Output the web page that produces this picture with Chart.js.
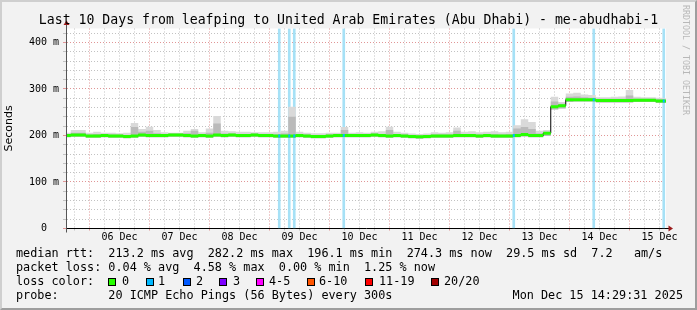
<!DOCTYPE html>
<html>
<head>
<meta charset="utf-8">
<script src="https://cdn.jsdelivr.net/npm/chart.js@4.4.1/dist/chart.umd.min.js"></script>
<style>
html, body { margin: 0; padding: 0; background: #f2f2f2; }
#wrap { position: relative; width: 697px; height: 310px; overflow: hidden; font-family: 'DejaVu Sans Mono', monospace; color: #000; }
#chart { position: absolute; left: 0; top: 0; }
#frame { position: absolute; left: 0; top: 0; width: 697px; height: 310px; box-sizing: border-box; border: 2px solid; border-color: #cfcfcf #9e9e9e #9e9e9e #cfcfcf; pointer-events: none; }
#title { position: absolute; left: 0; top: 12px; width: 697px; text-align: center; font-size: 13.2px; line-height: 15px; white-space: pre; }
.leg { position: absolute; font-size: 11.8px; line-height: 14px; white-space: pre; }
.box { position: absolute; top: 278px; width: 8px; height: 8px; box-sizing: border-box; border: 1px solid #000; }
#mark { position: absolute; left: 681px; top: 5px; writing-mode: vertical-rl; font-size: 8.3px; line-height: 10px; color: #b8b8b8; white-space: pre; }
</style>
</head>
<body>
<div id="wrap">
  <canvas id="chart" width="697" height="310"></canvas>
  <div id="title">Last 10 Days from leafping to United Arab Emirates (Abu Dhabi) - me-abudhabi-1</div>
  <div id="mark">RRDTOOL / TOBI OETIKER</div>
  <div class="leg" style="left:16px;top:246.4px">median rtt:  213.2 ms avg  282.2 ms max  196.1 ms min  274.3 ms now  29.5 ms sd  7.2   am/s</div>
  <div class="leg" style="left:16px;top:260.4px">packet loss: 0.04 % avg  4.58 % max  0.00 % min  1.25 % now</div>
  <div class="leg" style="left:16px;top:274.4px">loss color:</div>
  <div id="losskey"></div>
  <div class="leg" style="left:16px;top:288.4px">probe:       20 ICMP Echo Pings (56 Bytes) every 300s</div>
  <div class="leg" style="right:14px;top:288.4px">Mon Dec 15 14:29:31 2025</div>
  <div id="frame"></div>
</div>
<script>
// time axis is in hours after 05 Dec 00:00
const startHour = 15;
const stepHours = 3;
const xMin = 14.6;
const xMax = 254.6;
const yMax = 430;

const dayLabels = ['06 Dec', '07 Dec', '08 Dec', '09 Dec', '10 Dec', '11 Dec', '12 Dec', '13 Dec', '14 Dec', '15 Dec'];

// median rtt in ms, one value every 3 hours
const median = [
  200, 201, 201, 199, 199, 200, 199, 199, 198, 199,
  201, 200, 200, 200, 201, 201, 200, 199, 200, 199,
  201, 200, 201, 200, 200, 201, 200, 200, 199, 199,
  199, 200, 199, 198, 198, 199, 200, 200, 200, 200,
  200, 201, 200, 199, 200, 199, 198, 197, 198, 199,
  199, 199, 200, 200, 200, 199, 200, 199, 199, 199,
  200, 202, 200, 200, 205, 262, 264, 277, 277, 277,
  277, 275, 275, 275, 275, 275, 276, 276, 276, 274,
  274
];

// smoke: lowest ping, upper quartile-ish, highest ping
const smokeLo = [
  196, 197, 197, 195, 195, 196, 195, 195, 194, 195,
  197, 196, 196, 196, 197, 197, 196, 195, 196, 195,
  197, 196, 197, 196, 196, 197, 196, 196, 195, 195,
  195, 196, 195, 194, 194, 195, 196, 196, 196, 196,
  196, 197, 196, 195, 196, 195, 194, 193, 194, 195,
  195, 195, 196, 196, 196, 195, 196, 195, 195, 195,
  196, 198, 196, 196, 199, 256, 258, 272, 273, 273,
  273, 271, 271, 271, 271, 271, 272, 272, 272, 270,
  270
];
const smokeMid = [
  202, 206, 206, 202, 203, 203, 202, 202, 201, 218,
  208, 210, 205, 203, 204, 204, 205, 210, 203, 206,
  226, 204, 204, 203, 203, 204, 203, 203, 202, 204,
  240, 203, 202, 201, 201, 202, 203, 212, 203, 203,
  203, 204, 203, 212, 203, 202, 201, 200, 201, 202,
  202, 202, 210, 203, 203, 202, 203, 203, 202, 203,
  215, 218, 214, 204, 208, 273, 268, 283, 284, 282,
  281, 279, 279, 279, 279, 286, 279, 279, 279, 278,
  277
];
const smokeHi = [
  206, 212, 212, 206, 208, 206, 206, 205, 206, 227,
  214, 219, 212, 207, 206, 206, 210, 214, 207, 215,
  242, 210, 209, 208, 208, 207, 207, 207, 208, 210,
  262, 208, 206, 205, 205, 206, 206, 218, 206, 207,
  206, 208, 209, 219, 208, 206, 204, 203, 204, 207,
  206, 207, 217, 208, 209, 207, 208, 209, 207, 208,
  222, 235, 229, 210, 212, 283, 272, 290, 292, 288,
  287, 282, 282, 283, 284, 298, 283, 282, 282, 281,
  280
];

// hours with packet loss (1 of 20 each)
const lossHours = [99.9, 103.9, 105.9, 125.7, 193.7, 225.7, 253.7];

const lossNames = ['0', '1', '2', '3', '4-5', '6-10', '11-19', '20/20'];
const lossColors = ['#26ff00', '#00b8ff', '#0059ff', '#7e00ff', '#ff00ff', '#ff5500', '#ff0000', '#a10000'];
const lossBoxX = [108, 145.7, 182.7, 219.3, 256, 307.3, 365, 430.7];
const lossTextX = [122, 158, 196, 233, 269, 319, 379, 444];

const minorColor = '#c2c2c2';
const majorColor = '#e09696';

// loss color legend
let keyHtml = '';
lossNames.forEach((name, i) => {
    keyHtml += `<div class="box" style="left:${lossBoxX[i]}px;background:${lossColors[i]}"></div>`;
    keyHtml += `<div class="leg" style="left:${lossTextX[i]}px;top:274.4px">${name}</div>`;
});
document.getElementById('losskey').innerHTML = keyHtml;

function toPoints(arr) {
    return arr.map((v, i) => ({ x: startHour + i * stepHours, y: v }));
}

// green median pieces, broken so the jumps show the black line below
const greenSegs = [];
median.forEach((v, i) => {
    const h = startHour + i * stepHours;
    greenSegs.push({ x: h - 1.5, y: v }, { x: h + 1.5, y: v }, { x: h + 1.5, y: null });
});

// median pixels with loss are drawn in the loss colour
const blueSegs = [];
lossHours.forEach(h => {
    const v = median[Math.round((h - startHour) / stepHours)];
    blueSegs.push({ x: h - 0.4, y: v }, { x: h + 0.4, y: v }, { x: h + 0.4, y: null });
});

const rrdFrame = {
    id: 'rrdFrame',
    beforeDraw(chart) {
        const { ctx, chartArea: a } = chart;
        ctx.save();
        ctx.fillStyle = '#ffffff';
        ctx.fillRect(a.left, a.top, a.right - a.left, a.bottom - a.top);
        ctx.restore();
    },
    afterDraw(chart) {
        const { ctx, chartArea: a } = chart;
        const ax = Math.round(a.left) + 0.5;
        const ay = Math.round(a.bottom) - 0.5;
        ctx.save();
        ctx.lineWidth = 1;
        ctx.strokeStyle = '#555';
        ctx.beginPath();
        ctx.moveTo(ax, ay + 4);
        ctx.lineTo(ax, a.top - 4);
        ctx.stroke();
        ctx.strokeStyle = '#000';
        ctx.beginPath();
        ctx.moveTo(a.right, ay);
        ctx.lineTo(a.right + 3, ay);
        ctx.stroke();
        ctx.fillStyle = '#9b1c1c';
        ctx.beginPath();
        ctx.moveTo(ax, a.top - 8);
        ctx.lineTo(ax - 3, a.top - 3.5);
        ctx.lineTo(ax + 3, a.top - 3.5);
        ctx.closePath();
        ctx.fill();
        ctx.beginPath();
        ctx.moveTo(a.right + 7, ay);
        ctx.lineTo(a.right + 2.5, ay - 3);
        ctx.lineTo(a.right + 2.5, ay + 3);
        ctx.closePath();
        ctx.fill();
        ctx.restore();
    }
};

Chart.defaults.font.family = "'DejaVu Sans Mono', monospace";
Chart.defaults.color = '#000';

new Chart(document.getElementById('chart').getContext('2d'), {
    type: 'line',
    data: {
        datasets: [
            {
                type: 'bar',
                data: lossHours.map(h => ({ x: h, y: yMax })),
                backgroundColor: '#a6e1f6',
                barThickness: 2,
                order: 50
            },
            {
                data: toPoints(smokeLo),
                borderWidth: 0,
                borderColor: 'rgba(0,0,0,0)',
                pointRadius: 0,
                stepped: 'middle',
                fill: false,
                order: 40
            },
            {
                data: toPoints(smokeHi),
                borderWidth: 0,
                borderColor: 'rgba(0,0,0,0)',
                backgroundColor: '#d9d9d9',
                pointRadius: 0,
                stepped: 'middle',
                fill: 1,
                order: 30
            },
            {
                data: toPoints(smokeMid),
                borderWidth: 0,
                borderColor: 'rgba(0,0,0,0)',
                backgroundColor: '#bababa',
                pointRadius: 0,
                stepped: 'middle',
                fill: 1,
                order: 20
            },
            {
                data: toPoints(median),
                borderColor: '#000',
                borderWidth: 1,
                pointRadius: 0,
                stepped: 'middle',
                fill: false,
                order: 10
            },
            {
                data: greenSegs,
                borderColor: '#26ff00',
                borderWidth: 3,
                borderCapStyle: 'butt',
                pointRadius: 0,
                spanGaps: false,
                fill: false,
                order: 5
            },
            {
                data: blueSegs,
                borderColor: '#00b8ff',
                borderWidth: 3,
                borderCapStyle: 'butt',
                pointRadius: 0,
                spanGaps: false,
                fill: false,
                order: 1
            }
        ]
    },
    options: {
        responsive: false,
        animation: false,
        devicePixelRatio: 1,
        layout: { padding: { left: 0, right: 31, top: 28.5, bottom: 61.5 } },
        plugins: { legend: { display: false }, tooltip: { enabled: false }, title: { display: false } },
        scales: {
            x: {
                type: 'linear',
                min: xMin,
                max: xMax,
                offset: false,
                afterBuildTicks: s => {
                    s.ticks = [];
                    for (let v = 18; v < xMax; v += 6) s.ticks.push({ value: v });
                },
                afterFit: s => { s.height = 20; },
                grid: {
                    offset: false,
                    color: c => (c.tick && c.tick.value % 24 === 0) ? majorColor : minorColor,
                    tickColor: c => (c.tick && c.tick.value % 24 === 0) ? majorColor : minorColor,
                    tickLength: 2
                },
                border: { color: '#000', width: 1, dash: [1, 2] },
                ticks: {
                    autoSkip: false,
                    maxRotation: 0,
                    padding: 1,
                    font: { size: 10 },
                    callback: v => ((v - 12) % 24 === 0) ? dayLabels[(v - 36) / 24] : ''
                }
            },
            y: {
                min: 0,
                max: yMax,
                afterBuildTicks: s => {
                    s.ticks = [];
                    for (let v = 0; v < yMax; v += 20) s.ticks.push({ value: v });
                },
                afterFit: s => { s.width = 66; },
                grid: {
                    color: c => (c.tick && c.tick.value % 100 === 0) ? majorColor : minorColor,
                    tickColor: c => (c.tick && c.tick.value % 100 === 0) ? majorColor : minorColor,
                    tickLength: 3
                },
                border: { color: '#555', width: 1, dash: [1, 2] },
                ticks: {
                    autoSkip: false,
                    padding: 4,
                    font: { size: 10 },
                    callback: v => v === 0 ? '0  ' : (v % 100 === 0 ? v + ' m' : '')
                },
                title: {
                    display: true,
                    text: 'Seconds',
                    font: { family: "'DejaVu Sans', sans-serif", size: 11 },
                    padding: { top: 3, bottom: 0 }
                }
            }
        }
    },
    plugins: [rrdFrame]
});
</script>
</body>
</html>
